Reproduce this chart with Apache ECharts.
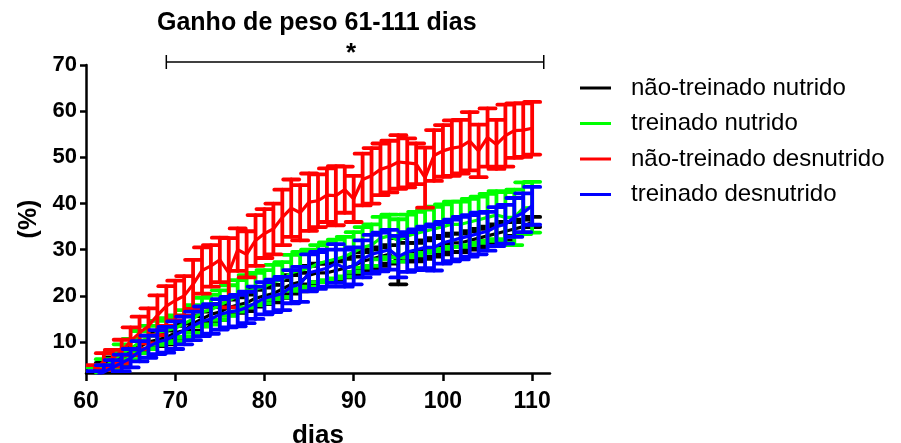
<!DOCTYPE html>
<html>
<head>
<meta charset="utf-8">
<script src="https://cdn.jsdelivr.net/npm/echarts@6/dist/echarts.min.js"></script>
<style>html,body{margin:0;padding:0;background:#fff}#c{width:901px;height:443px}</style>
</head>
<body>
<div id="c"></div>
<script>
const days = [61,62,63,64,65,66,67,68,69,70,71,72,73,74,75,76,77,78,79,80,81,82,83,84,85,86,87,88,89,90,91,92,93,94,95,96,97,98,99,100,101,102,103,104,105,106,107,108,109,110];

const seriesNames = ['não-treinado nutrido','treinado nutrido','não-treinado desnutrido','treinado desnutrido'];

// não-treinado nutrido (black)
const blackMean = [3.5,4.5,5.5,6.5,7.5,9.0,10.0,10.5,11.0,12.0,12.5,14.0,15.0,16.0,16.5,17.5,18.0,18.5,19.5,20.0,20.5,21.5,22.5,23.0,24.5,25.0,25.0,25.5,26.0,26.5,27.5,28.0,28.5,29.0,27.5,29.5,29.5,30.0,30.5,31.0,31.5,31.5,32.0,32.5,33.0,33.5,34.0,34.5,35.0,36.0];
const blackErr  = [1.0,1.0,1.2,1.2,1.3,1.3,1.4,1.4,1.5,1.5,1.5,1.6,1.6,1.6,1.7,1.7,1.7,1.8,1.8,1.8,1.9,1.9,2.0,2.0,2.0,2.0,2.0,2.0,2.0,2.0,2.0,2.0,2.0,2.0,5.0,2.0,2.0,2.0,2.0,2.0,2.0,2.0,2.0,2.0,2.0,2.0,2.0,1.5,1.5,1.1];

// treinado nutrido (green)
const greenMean = [3.0,4.5,6.0,7.5,8.5,10.0,11.0,12.0,12.5,13.0,14.0,15.0,16.5,17.0,18.0,19.0,20.0,21.0,21.5,22.0,23.0,23.5,25.0,25.5,26.0,27.0,27.5,28.0,28.5,29.5,30.5,31.0,32.5,33.0,32.0,33.0,33.5,34.0,34.5,35.0,35.5,35.5,36.0,36.5,37.0,37.5,37.0,37.0,39.0,39.2];
const greenErr  = [1.5,1.8,2.0,2.0,2.2,2.4,2.5,2.6,2.7,2.8,2.9,3.0,3.1,3.2,3.2,3.3,3.4,3.5,3.5,3.6,3.7,3.8,3.9,4.0,4.0,4.0,4.1,4.2,4.3,4.3,4.4,4.5,4.6,4.6,4.6,4.6,4.7,4.7,4.8,4.8,4.9,4.9,5.0,5.0,5.1,5.2,5.5,6.0,5.6,5.5];

// não-treinado desnutrido (red)
const redMean = [4.0,5.8,6.5,8.0,10.2,12.0,13.5,15.8,17.8,19.0,20.0,22.5,25.5,26.5,27.8,25.0,30.0,29.0,32.0,33.5,34.5,37.0,39.0,38.0,40.3,40.6,41.8,41.7,43.0,41.0,45.2,46.0,47.4,48.0,49.0,48.8,48.6,45.6,50.4,51.4,52.0,52.3,53.5,51.4,54.3,52.8,54.7,55.8,55.9,56.3];
const redErr  = [1.0,1.8,1.8,2.5,3.0,3.5,3.8,4.3,4.3,4.3,4.3,5.3,5.0,4.5,4.8,7.5,4.6,5.0,5.5,5.3,5.5,6.0,6.2,6.0,6.2,5.7,5.8,6.4,5.0,5.0,5.6,6.0,5.6,5.6,5.8,5.3,4.4,6.5,5.5,5.6,6.0,5.8,6.3,5.7,6.3,5.3,6.7,5.9,5.8,5.7];

// treinado desnutrido (blue)
const blueMean = [2.5,3.5,4.5,5.5,6.5,8.0,9.0,10.0,10.5,11.5,12.5,13.5,14.5,15.0,16.0,16.5,16.8,17.5,18.5,19.5,20.0,20.5,22.0,22.5,25.0,25.5,26.0,27.0,26.0,26.5,28.0,29.0,29.5,30.0,28.5,29.5,30.0,30.5,30.5,31.5,32.0,32.5,33.0,33.5,34.0,35.0,35.5,37.0,38.0,39.5];
const blueErr  = [1.2,1.5,1.6,1.8,2.0,2.2,2.4,2.6,2.8,3.0,3.0,3.1,3.2,3.2,3.3,3.3,3.4,3.4,3.5,3.5,3.5,3.6,3.6,3.8,4.0,4.0,4.0,4.2,4.0,4.0,4.0,4.2,4.2,4.3,4.5,4.3,4.4,4.5,5.0,4.5,4.5,4.6,4.5,4.5,4.2,4.2,4.2,4.2,4.2,4.1];

const xTicks = [60,70,80,90,100,110];
const yTicks = [10,20,30,40,50,60,70];
const sigRange = [69, 111.3];

const colors = ['#000000','#00ff00','#ff0000','#0000ff'];
const means = [blackMean, greenMean, redMean, blueMean];
const errs = [blackErr, greenErr, redErr, blueErr];
const drawOrder = [1, 0, 2, 3];

const FONT = 'Liberation Sans, Arial, sans-serif';

function errRender(color) {
  return function (params, api) {
    const x = api.value(0);
    const lo = api.coord([x, api.value(1)]);
    const hi = api.coord([x, api.value(2)]);
    const hw = 8;
    const style = { stroke: color, lineWidth: 3.8, lineCap: 'round' };
    return {
      type: 'group',
      children: [
        { type: 'line', shape: { x1: lo[0], y1: lo[1], x2: hi[0], y2: hi[1] }, style: style },
        { type: 'line', shape: { x1: hi[0] - hw, y1: hi[1], x2: hi[0] + hw, y2: hi[1] }, style: style },
        { type: 'line', shape: { x1: lo[0] - hw, y1: lo[1], x2: lo[0] + hw, y2: lo[1] }, style: style }
      ]
    };
  };
}

const series = [];
drawOrder.forEach(function (i) {
  series.push({
    type: 'custom',
    name: seriesNames[i] + ' (erro)',
    clip: true,
    renderItem: errRender(colors[i]),
    itemStyle: { color: colors[i] },
    data: days.map(function (d, k) { return [d, means[i][k] - errs[i][k], means[i][k] + errs[i][k]]; }),
    z: 2 + i,
    silent: true
  });
  series.push({
    type: 'line',
    name: seriesNames[i],
    data: days.map(function (d, k) { return [d, means[i][k]]; }),
    showSymbol: false,
    symbol: 'none',
    clip: true,
    color: colors[i],
    lineStyle: { color: colors[i], width: 3.2 },
    itemStyle: { color: colors[i] },
    z: 2 + i,
    animation: false
  });
});

const chart = echarts.init(document.getElementById('c'), null, { renderer: 'canvas' });
chart.setOption({
  animation: false,
  backgroundColor: '#fff',
  title: {
    text: 'Ganho de peso 61-111 dias',
    left: 152, top: 6,
    textStyle: { fontFamily: FONT, fontWeight: 'bold', fontSize: 25, color: '#000' }
  },
  legend: {
    data: seriesNames,
    orient: 'vertical',
    left: 575, top: 71,
    icon: 'rect',
    itemWidth: 31, itemHeight: 3,
    itemGap: 11.5,
    textStyle: { fontFamily: FONT, fontSize: 24, color: '#000', lineHeight: 23, padding: [0, 0, 0, 15] },
    selectedMode: false
  },
  grid: { left: 86, right: 351, top: 65, bottom: 70, containLabel: false, outerBoundsMode: 'none' },
  xAxis: {
    type: 'value', min: 60, max: 112,
    name: 'dias', nameLocation: 'middle', nameGap: 50,
    nameTextStyle: { fontFamily: FONT, fontWeight: 'bold', fontSize: 26, color: '#000' },
    axisLine: { lineStyle: { color: '#000', width: 2.5 } },
    axisTick: { show: true, length: 8, inside: false, lineStyle: { color: '#000', width: 2.5 }, customValues: xTicks },
    axisLabel: { customValues: xTicks, fontFamily: FONT, fontWeight: 'bold', fontSize: 23, color: '#000', margin: 17 },
    splitLine: { show: false }
  },
  yAxis: {
    type: 'value', min: 3.3, max: 70,
    name: '(%)', nameLocation: 'middle', nameGap: 41, nameRotate: 90,
    nameTextStyle: { fontFamily: FONT, fontWeight: 'bold', fontSize: 25, color: '#000' },
    axisLine: { show: true, lineStyle: { color: '#000', width: 2.5 } },
    axisTick: { show: true, length: 6, lineStyle: { color: '#000', width: 2.5 }, customValues: yTicks },
    axisLabel: { customValues: yTicks, fontFamily: FONT, fontWeight: 'bold', fontSize: 22, color: '#000', margin: 9 },
    splitLine: { show: false }
  },
  series: series
});

function drawSig() {
  const a = chart.convertToPixel({ gridIndex: 0 }, [sigRange[0], 70]);
  const b = chart.convertToPixel({ gridIndex: 0 }, [sigRange[1], 70]);
  const y = a[1] - 3;
  const st = { stroke: '#000', lineWidth: 1.5 };
  chart.setOption({
    graphic: [
      { type: 'line', shape: { x1: a[0], y1: y, x2: b[0], y2: y }, style: st, z: 10 },
      { type: 'line', shape: { x1: a[0], y1: y - 7, x2: a[0], y2: y + 7 }, style: st, z: 10 },
      { type: 'line', shape: { x1: b[0], y1: y - 7, x2: b[0], y2: y + 7 }, style: st, z: 10 },
      { type: 'text', x: (a[0] + b[0]) / 2 - 4, y: y + 5, style: { text: '*', fontFamily: FONT, fontWeight: 'bold', fontSize: 26, fill: '#000', align: 'center', verticalAlign: 'bottom' }, z: 10 }
    ]
  });
}
drawSig();
</script>
</body>
</html>
